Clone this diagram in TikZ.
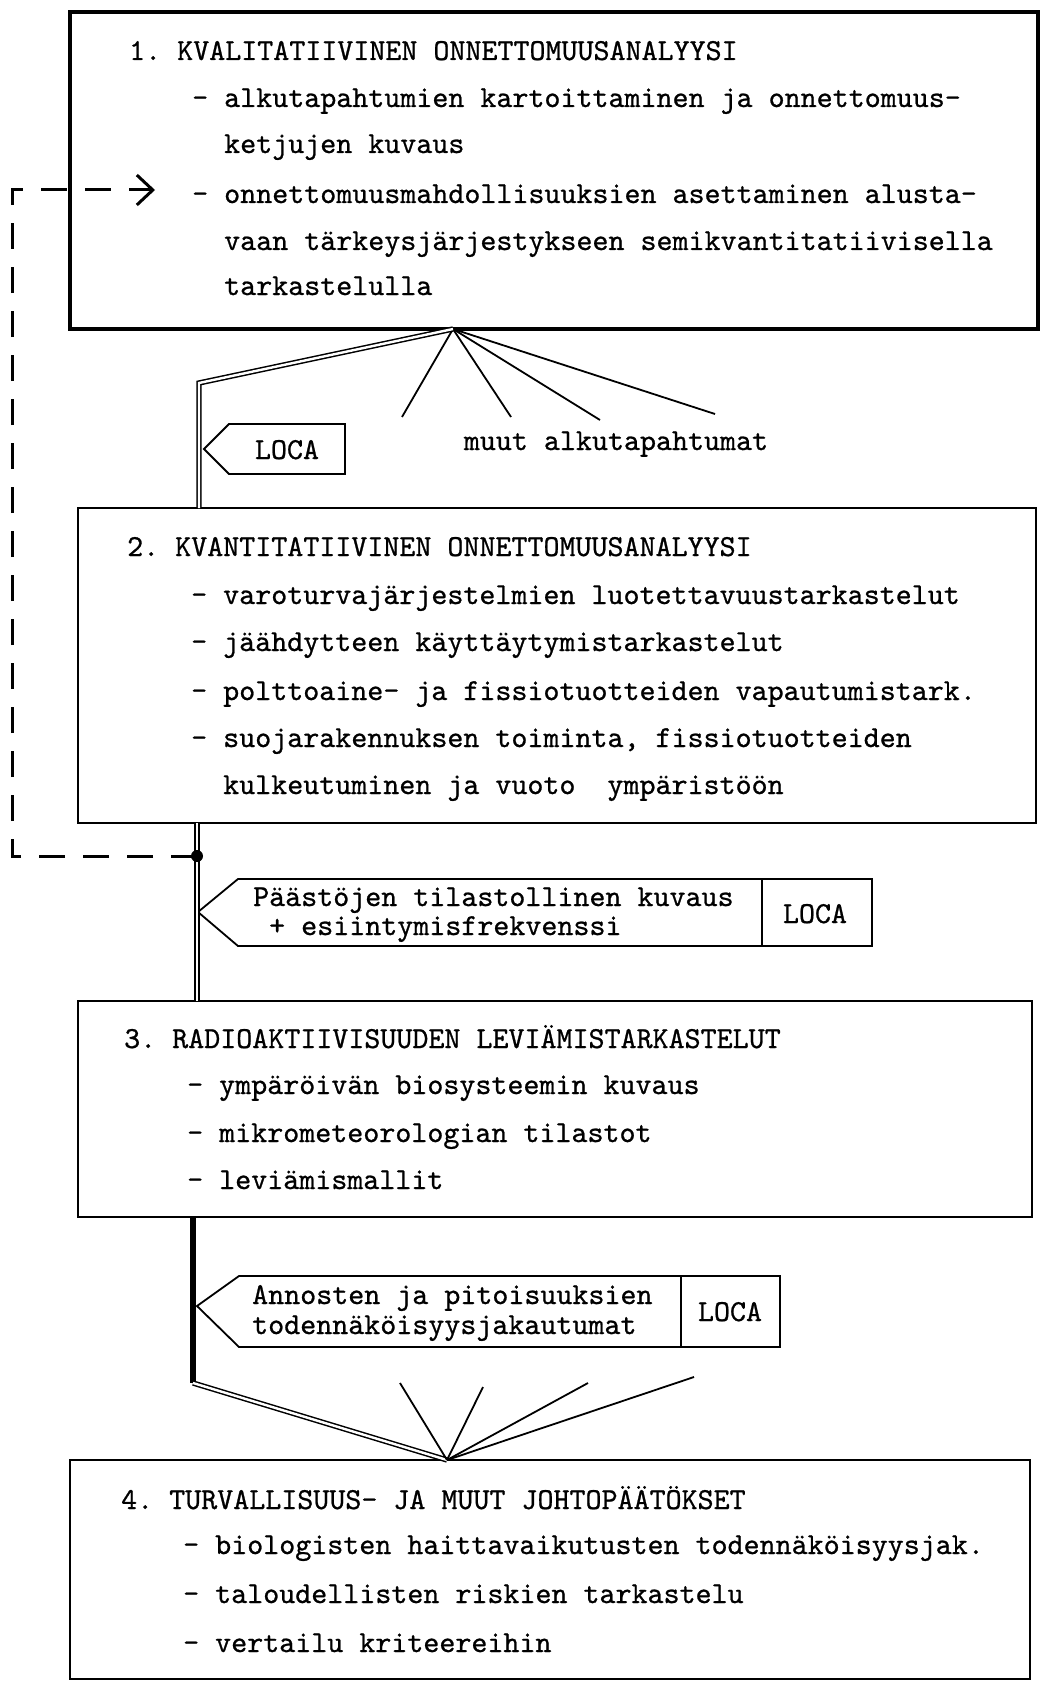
\documentclass[tikz,border=0pt]{standalone}
\usepackage{fontspec}
\usetikzlibrary{arrows.meta,fit}
\newfontfamily\mymonofam{lmmono10-regular.otf}[FakeBold=0.8]
\newcommand\mytt{\mymonofam\fontsize{30.5pt}{36pt}\selectfont\frenchspacing}
\begin{document}
\begin{tikzpicture}[x=1pt,y=-1pt,
  box/.style={line width=2.6pt,inner sep=0pt,outer sep=0pt},
  txt/.style={anchor=base west,inner sep=0pt,font=\mytt},
  ctxt/.style={anchor=base,inner sep=0pt,font=\mytt},
  fan/.style={line width=1.8pt},
  dbl/.style={double,line width=1.5pt,double distance=2.4pt},
  heavy/.style={line width=6pt},
  tagline/.style={line width=1.8pt,line join=miter},
  feedback/.style={line width=3pt,dash pattern=on 26pt off 18pt},
  dot/.style={circle,fill,inner sep=0pt,minimum size=12pt},
]
\useasboundingbox (0,0) rectangle (1041,1688);

% box corners
\coordinate (b1a) at (70,12);   \coordinate (b1b) at (1038,329);
\coordinate (b2a) at (78,508);  \coordinate (b2b) at (1036,823);
\coordinate (b3a) at (78,1001); \coordinate (b3b) at (1032,1217);
\coordinate (b4a) at (70,1460); \coordinate (b4b) at (1030,1679);

% boxes
\node[box,fit=(b1a)(b1b)] (b1) {};
\node[box,fit=(b2a)(b2b)] (b2) {};
\node[box,fit=(b3a)(b3b)] (b3) {};
\node[box,fit=(b4a)(b4b)] (b4) {};
\draw[box,line width=3.2pt] (b1a) rectangle (b1b);
\draw[box] (b2a) rectangle (b2b);
\draw[box] (b3a) rectangle (b3b);
\draw[box] (b4a) rectangle (b4b);

% box 1 text
\node[txt] (t10) at (129,60) {1. KVALITATIIVINEN ONNETTOMUUSANALYYSI};
\node[txt] (t11) at (192,107) {- alkutapahtumien kartoittaminen ja onnettomuus-};
\node[txt] (t12) at (224,153) {ketjujen kuvaus};
\node[txt] (t13) at (192,203) {- onnettomuusmahdollisuuksien asettaminen alusta-};
\node[txt] (t14) at (224,250) {vaan tärkeysjärjestykseen semikvantitatiivisella};
\node[txt] (t15) at (224,295) {tarkastelulla};

% box 2 text
\node[txt] (t20) at (127,556) {2. KVANTITATIIVINEN ONNETTOMUUSANALYYSI};
\node[txt] (t21) at (191,604) {- varoturvajärjestelmien luotettavuustarkastelut};
\node[txt] (t22) at (191,651) {- jäähdytteen käyttäytymistarkastelut};
\node[txt] (t23) at (191,700) {- polttoaine- ja fissiotuotteiden vapautumistark.};
\node[txt] (t24) at (191,747) {- suojarakennuksen toiminta, fissiotuotteiden};
\node[txt] (t25) at (223,794) {kulkeutuminen ja vuoto\ \ ympäristöön};

% box 3 text
\node[txt] (t30) at (124,1048) {3. RADIOAKTIIVISUUDEN LEVIÄMISTARKASTELUT};
\node[txt] (t31) at (187,1094) {- ympäröivän biosysteemin kuvaus};
\node[txt] (t32) at (187,1142) {- mikrometeorologian tilastot};
\node[txt] (t33) at (187,1189) {- leviämismallit};

% box 4 text
\node[txt] (t40) at (121,1509) {4. TURVALLISUUS- JA MUUT JOHTOPÄÄTÖKSET};
\node[txt] (t41) at (183,1554) {- biologisten haittavaikutusten todennäköisyysjak.};
\node[txt] (t42) at (183,1603) {- taloudellisten riskien tarkastelu};
\node[txt] (t43) at (183,1652) {- vertailu kriteereihin};

% tag 1
\draw[tagline] (204,449) -- (229,424) -- (345,424) -- (345,474) -- (229,474) -- cycle;
\node[ctxt] (l1) at (287,459) {LOCA};
\node[ctxt] (muut) at (616,450) {muut alkutapahtumat};

% tag 2
\draw[tagline] (198,912) -- (238,879) -- (872,879) -- (872,946) -- (238,946) -- cycle;
\draw[tagline] (762,879) -- (762,946);
\node[txt] (p1) at (253,906) {Päästöjen tilastollinen kuvaus};
\node[txt] (p2) at (269,935) {+ esiintymisfrekvenssi};
\node[ctxt] (l2) at (815,923) {LOCA};

% tag 3
\draw[tagline] (197,1306) -- (239,1276) -- (780,1276) -- (780,1347) -- (239,1347) -- cycle;
\draw[tagline] (681,1276) -- (681,1347);
\node[txt] (q1) at (252,1304) {Annosten ja pitoisuuksien};
\node[txt] (q2) at (252,1334) {todennäköisyysjakautumat};
\node[ctxt] (l3) at (730,1321) {LOCA};

% connectors top
\coordinate (a1) at (453,329);
\coordinate (c1) at (199,383);
\coordinate (f1) at (402,417);
\coordinate (f2) at (511,417);
\coordinate (f3) at (600,420);
\coordinate (f4) at (715,414);
\draw[fan] (a1) -- (f1);
\draw[fan] (a1) -- (f2);
\draw[fan] (a1) -- (f3);
\draw[fan] (a1) -- (f4);
\draw[dbl] (a1) -- (c1) -- (c1 |- b2.north);

% middle
\coordinate (x2) at (197,0);
\draw[dbl] (x2 |- b2.south) -- (x2 |- b3.north);
\node[dot] (jn) at (197,856) {};

% feedback dashed line
\coordinate (fb1) at (12,856);
\coordinate (fb2) at (12,190);
\coordinate (fbt) at (155,190);
\draw[feedback,-{Straight Barb[length=16pt,width=30pt]}] (jn.center) -- (fb1) -- (fb2) -- (fbt);

% bottom
\coordinate (x3) at (193,0);
\coordinate (c3) at (193,1383);
\coordinate (a4) at (447,1460);
\coordinate (g1) at (400,1383);
\coordinate (g2) at (483,1387);
\coordinate (g3) at (588,1383);
\coordinate (g4) at (694,1377);
\draw[heavy] (x3 |- b3.south) -- (c3);
\draw[dbl] (c3) -- (a4);
\draw[fan] (a4) -- (g1);
\draw[fan] (a4) -- (g2);
\draw[fan] (a4) -- (g3);
\draw[fan] (a4) -- (g4);
\end{tikzpicture}
\end{document}
